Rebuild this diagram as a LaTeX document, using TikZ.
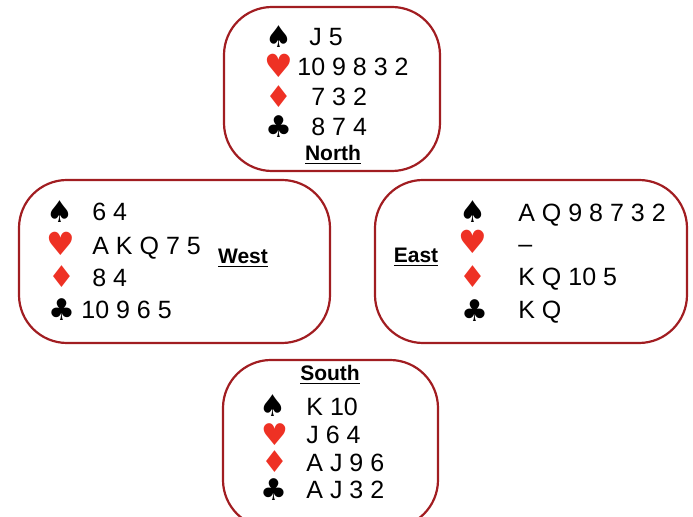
\documentclass[tikz,border=0pt]{standalone}
\usepackage{fontspec}
\setmainfont{Liberation Sans}
\newfontfamily\suitfont{DejaVu Sans}
\usetikzlibrary{positioning}
\definecolor{handred}{HTML}{A11D21}
\definecolor{suitred}{HTML}{EE3124}

\begin{document}
\begin{tikzpicture}[
    x=0.5pt, y=-0.5pt,
    hand/.style={rectangle, draw=handred, line width=1.1pt, rounded corners=24pt, inner sep=0pt},
    suit/.style={inner sep=0pt, text height=10.5pt, text depth=0pt, font=\suitfont\fontsize{15}{15}\selectfont},
    redsuit/.style={suit, text=suitred},
    cards/.style={anchor=west, inner sep=0pt, text height=9pt, text depth=0pt, font=\fontsize{12.5}{14}\selectfont},
    seat/.style={inner sep=0pt, font=\bfseries\fontsize{10.5}{12}\selectfont}
]
    \useasboundingbox (0,0) rectangle (693,517);

    % the four hands
    \node[hand, minimum width=108pt, minimum height=82pt] (north) at (332,89) {};
    \node[hand, minimum width=155.5pt, minimum height=81.5pt] (west) at (174.5,261.5) {};
    \node[hand, minimum width=156pt, minimum height=81.5pt] (east) at (531,261.5) {};
    \node[hand, minimum width=107.5pt, minimum height=84pt] (south) at (330.5,444) {};

    % North
    \node[suit] (nS) at (279,37) {♠};
    \node[redsuit, font=\suitfont\fontsize{16}{16}\selectfont] (nH) at (279,67) {♥};
    \node[redsuit] (nD) at (279,97) {♦};
    \node[suit] (nC) at (279,127) {♣};
    \node[cards] (nSc) at (309,37) {J 5};
    \node[cards] (nHc) at (297,67) {10 9 8 3 2};
    \node[cards] (nDc) at (311,97) {7 3 2};
    \node[cards] (nCc) at (311,127) {8 7 4};
    \node[seat] (nName) at (333,155) {\underline{North}};

    % West
    \node[suit] (wS) at (60,212) {♠};
    \node[redsuit, font=\suitfont\fontsize{16}{16}\selectfont] (wH) at (61,245) {♥};
    \node[redsuit] (wD) at (62,277) {♦};
    \node[suit] (wC) at (62,310) {♣};
    \node[cards] (wSc) at (92,212) {6 4};
    \node[cards] (wHc) at (92,246) {A K Q 7 5};
    \node[cards] (wDc) at (92,278) {8 4};
    \node[cards] (wCc) at (81,310) {10 9 6 5};
    \node[seat] (wName) at (243,258) {\underline{West}};

    % East
    \node[seat] (eName) at (416,257) {\underline{East}};
    \node[suit] (eS) at (473,212) {♠};
    \node[redsuit, font=\suitfont\fontsize{16}{16}\selectfont] (eH) at (473,243) {♥};
    \node[redsuit] (eD) at (473,277) {♦};
    \node[suit] (eC) at (475,311) {♣};
    \node[cards] (eSc) at (518,213) {A Q 9 8 7 3 2};
    \node[cards] (eHc) at (518,244) {–};
    \node[cards] (eDc) at (518,277) {K Q 10 5};
    \node[cards] (eCc) at (518,310) {K Q};

    % South
    \node[seat] (sName) at (330,375) {\underline{South}};
    \node[suit] (sS) at (273,406) {♠};
    \node[redsuit] (sH) at (275,435) {♥};
    \node[redsuit] (sD) at (275,462) {♦};
    \node[suit] (sC) at (274,490) {♣};
    \node[cards] (sSc) at (306,407) {K 10};
    \node[cards] (sHc) at (306,435) {J 6 4};
    \node[cards] (sDc) at (306,463) {A J 9 6};
    \node[cards] (sCc) at (306,490) {A J 3 2};
\end{tikzpicture}
\end{document}
